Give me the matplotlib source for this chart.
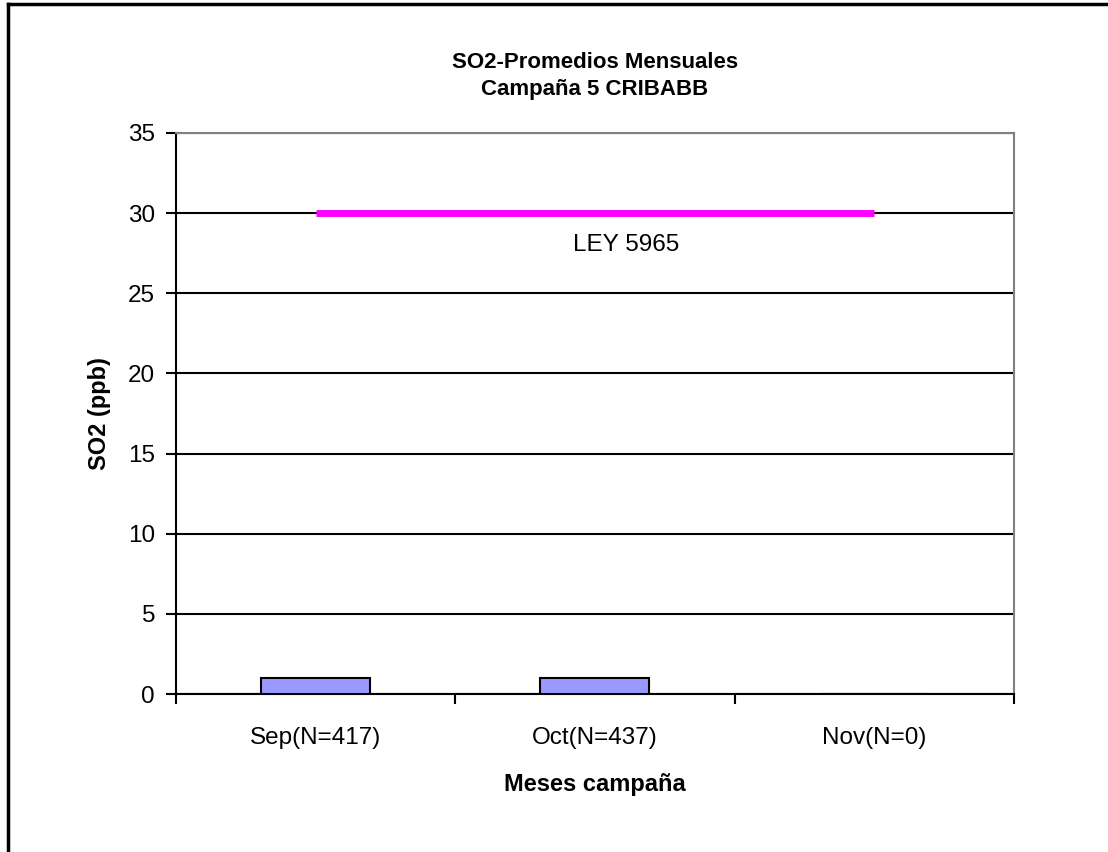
import matplotlib
matplotlib.use("Agg")
import matplotlib.pyplot as plt
from matplotlib.lines import Line2D

# data
months = ["Sep(N=417)", "Oct(N=437)", "Nov(N=0)"]
so2_mean = [1.0, 1.0, 0.0]
ley_limit = [30, 30, 30]
ley_label = "LEY 5965"
yticks = [0, 5, 10, 15, 20, 25, 30, 35]

plt.rcParams['font.family'] = ['Liberation Sans', 'DejaVu Sans']

fig = plt.figure(figsize=(11.08, 8.52), dpi=100)
ax = fig.add_axes([0.1588, 0.1854, 0.7563, 0.6585])

x = list(range(len(months)))
ax.bar(x, so2_mean, width=0.39, color="#9999ff", edgecolor="black", linewidth=1.5, zorder=3)
ax.plot(x, ley_limit, color="#ff00ff", linewidth=5, solid_capstyle="butt", zorder=4)
ax.text(1.11, 28.0, ley_label, ha="center", va="center", fontsize=17.5, zorder=5)

ax.set_xlim(-0.5, 2.5)
ax.set_ylim(0, 35)
ax.set_yticks(yticks)
ax.set_yticklabels([str(v) for v in yticks], fontsize=17.5)
ax.yaxis.grid(True, color="black", linewidth=1.5)
ax.set_axisbelow(True)

# category boundaries carry the tick marks, labels sit at centres
ax.set_xticks([-0.5, 0.5, 1.5, 2.5])
ax.set_xticklabels([])
ax.set_xticks(x, minor=True)
ax.set_xticklabels(months, minor=True, fontsize=17.5)
ax.tick_params(axis="x", which="major", direction="out", length=7, width=1.5)
ax.tick_params(axis="x", which="minor", length=0, pad=24)
ax.tick_params(axis="y", direction="out", length=7, width=1.5, pad=8)

ax.spines["left"].set_linewidth(1.5)
ax.spines["bottom"].set_linewidth(1.5)
ax.spines["top"].set_color("#808080")
ax.spines["right"].set_color("#808080")
ax.spines["top"].set_linewidth(1.5)
ax.spines["right"].set_linewidth(1.5)

ax.set_title("SO2-Promedios Mensuales\nCampaña 5 CRIBABB", fontsize=16,
             fontweight="bold", pad=27, linespacing=1.4)
ax.set_xlabel("Meses campaña", fontsize=17, fontweight="bold", labelpad=17)
ax.set_ylabel("SO2 (ppb)", fontsize=17, fontweight="bold", labelpad=12)

# outer frame: only left and top edges are visible in the crop
fig.add_artist(Line2D([8/1108, 1], [1 - 4/852, 1 - 4/852], transform=fig.transFigure,
                      color="black", linewidth=2.5))
fig.add_artist(Line2D([8/1108, 8/1108], [0, 1 - 4/852], transform=fig.transFigure,
                      color="black", linewidth=2.5))

fig.savefig("out.png", dpi=100)
